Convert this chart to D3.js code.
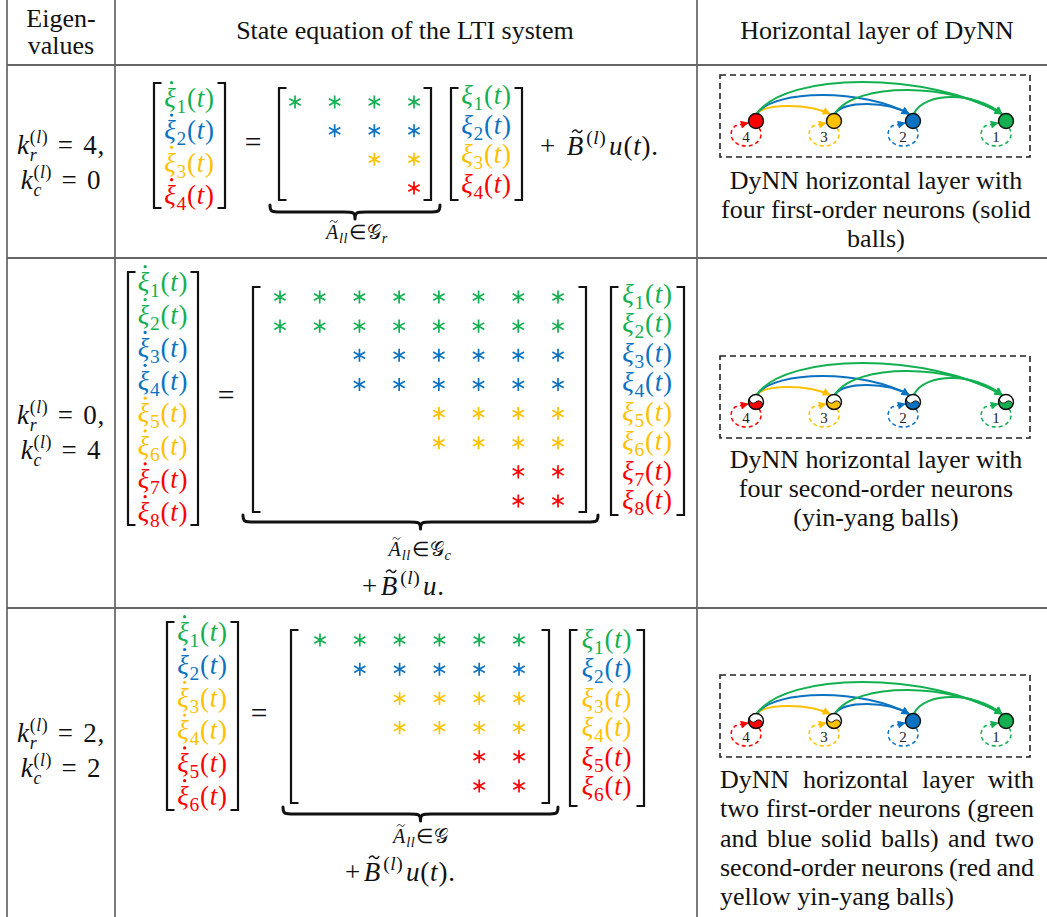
<!DOCTYPE html>
<html><head><meta charset="utf-8">
<script src="https://cdn.jsdelivr.net/npm/d3@7"></script>
<style>body{margin:0;background:#fff} svg{display:block}</style>
</head><body>
<svg id="c" width="1047" height="917"></svg>
<script>
// ---------------- DATA ----------------
const headerEigen = ["Eigen-", "values"];
const headers = ["State equation of the LTI system", "Horizontal layer of DyNN"];
const eigKr = [4, 0, 2];
const eigKc = [0, 4, 2];
const stateColors = [
  ["g","b","y","r"],
  ["g","g","b","b","y","y","r","r"],
  ["g","b","y","y","r","r"]
];
const starStart = [
  [0,1,2,3],
  [0,0,2,2,4,4,6,6],
  [0,1,2,2,4,4]
];
const setSub = ["r", "c", ""];
const inputTerm = ["u(t).", "u.", "u(t)."];
const inputPlusSpace = [true, false, false];
const neurons = [4, 3, 2, 1];
const neuronColors = ["r", "y", "b", "g"];
const neuronKinds = [
  ["solid","solid","solid","solid"],
  ["yy","yy","yy","yy"],
  ["yy","yy","solid","solid"]
];
const edgeFrom = [4, 4, 4, 3, 3, 2];
const edgeTo   = [3, 2, 1, 2, 1, 1];
const edgeRise = [15, 26, 39, 17, 31, 24];
const descriptions = [
  ["DyNN horizontal layer with", "four first-order neurons (solid", "balls)"],
  ["DyNN horizontal layer with", "four second-order neurons", "(yin-yang balls)"],
  ["DyNN horizontal layer with", "two first-order neurons (green", "and blue solid balls) and two", "second-order neurons (red and", "yellow yin-yang balls)"]
];
const descJustified = [false, false, true];

// ---------------- STYLE / LAYOUT ----------------
const W = 1047, H = 917;
const INK = "#111";
const pal = {g: "#12B050", b: "#0B72C2", y: "#FFC000", r: "#FF0000"};
const MF = "'Liberation Serif','Times New Roman',serif";
const S = 27;
const LS = 0.8;

const layout = [
  { k: [154, 189], eq: [253, 145],
    lv: {x0:154, x1:225, y0:83, y1:208, b:[107, 204]},
    m:  {x0:279, x1:431, y0:88, y1:200, cx:[295, 414], cy:[102, 188]},
    rv: {x0:451, x1:522, y0:88, y1:200, b:[104, 193]},
    br: {x0:270, x1:440, y:205}, lab: [357, 239], inp: [540, 155],
    box: 75, desc: [189, 29.2] },
  { k: [424, 459], eq: [226, 398],
    lv: {x0:128, x1:198, y0:272, y1:525, b:[291, 521]},
    m:  {x0:253, x1:586, y0:287, y1:512, cx:[280, 558], cy:[297, 501]},
    rv: {x0:611, x1:684, y0:287, y1:515, b:[303, 509]},
    br: {x0:243, x1:598, y:515}, lab: [420, 556], inp: [362, 595],
    box: 356, desc: [468, 29.2] },
  { k: [742, 777], eq: [259, 716],
    lv: {x0:167, x1:238, y0:622, y1:810, b:[641, 805]},
    m:  {x0:291, x1:549, y0:630, y1:803, cx:[320, 519], cy:[640, 786]},
    rv: {x0:570, x1:644, y0:630, y1:806, b:[648, 795]},
    br: {x0:283, x1:558, y:807}, lab: [421, 843], inp: [345, 881],
    box: 675, desc: [788, 29.3] }
];

const svg = d3.select("#c");
svg.append("rect").attr("width", W).attr("height", H).attr("fill", "#fff");

// ---------------- MATH HELPER ----------------
function runs(str) {
  const out = [];
  for (const ch of str) {
    const it = /[A-Za-z\u0370-\u03FF]/.test(ch);
    if (out.length && out[out.length-1][1] === it) out[out.length-1][0] += ch;
    else out.push([ch, it]);
  }
  return out;
}
function math(parent, items, size, color) {
  const g = parent.append("g");
  let x = 0;
  function put(str, fs, dy, o) {
    o = o || {};
    const t = g.append("text").attr("x", x).attr("y", dy)
      .attr("font-family", MF).attr("font-size", fs).attr("fill", color)
      .attr("letter-spacing", LS * fs / size);
    (o.up ? [[str, false]] : runs(str)).forEach(([s, it]) =>
      t.append("tspan").attr("font-style", it ? "italic" : "normal").text(s));
    const w = t.node().getComputedTextLength();
    if (o.dot) g.append("circle").attr("cx", x + w * 0.6).attr("cy", dy - 0.9 * fs)
      .attr("r", fs * 0.06).attr("fill", color);
    if (o.tilde) {
      const cx = x + w * 0.6, cy = dy - 0.88 * fs, hw = fs * 0.19, a = fs * 0.045;
      g.append("path")
        .attr("d", `M${cx-hw},${cy+a} C${cx-hw*0.55},${cy-a*2} ${cx-hw*0.2},${cy-a} ${cx},${cy} S${cx+hw*0.55},${cy+a*2} ${cx+hw},${cy-a}`)
        .attr("fill", "none").attr("stroke", color).attr("stroke-width", fs * 0.05);
    }
    return w;
  }
  items.forEach(it => {
    if (it.k !== undefined) { x += it.k * size; return; }
    if (it.sup !== undefined || it.sub !== undefined) {
      let w1 = 0, w2 = 0;
      const both = it.sup !== undefined && it.sub !== undefined;
      const fs = size * (both ? 0.66 : 0.72);
      if (it.sup !== undefined) w1 = put(it.sup, fs, -0.42 * size);
      if (it.sub !== undefined) w2 = put(it.sub, fs, (both ? 0.26 : 0.22) * size);
      x += Math.max(w1, w2) + (it.after || 0) * size; return;
    }
    x += put(it.t, size, 0, it) + (it.after || 0) * size;
  });
  return {g, w: x};
}
function place(m, x, y, anchor) {
  const dx = anchor === "middle" ? -m.w / 2 : anchor === "end" ? -m.w : 0;
  m.g.attr("transform", `translate(${x + dx},${y})`);
}
function bracketPair(x0, x1, y0, y1) {
  const t = 7.5;
  svg.append("path").attr("d", `M${x0+t},${y0} H${x0} V${y1} H${x0+t}`)
    .attr("fill", "none").attr("stroke", INK).attr("stroke-width", 2.2);
  svg.append("path").attr("d", `M${x1-t},${y0} H${x1} V${y1} H${x1-t}`)
    .attr("fill", "none").attr("stroke", INK).attr("stroke-width", 2.2);
}
function underbrace(x0, x1, y) {
  const d = 7, xc = (x0 + x1) / 2, ym = y + d, yb = y + 2 * d;
  const p = `M${x0},${y} C${x0},${ym} ${x0+2},${ym} ${x0+d*1.6},${ym} L${xc-d*1.6},${ym} C${xc-2},${ym} ${xc},${ym} ${xc},${yb} C${xc},${ym} ${xc+2},${ym} ${xc+d*1.6},${ym} L${x1-d*1.6},${ym} C${x1-2},${ym} ${x1},${ym} ${x1},${y}`;
  svg.append("path").attr("d", p).attr("fill", "none").attr("stroke", INK)
    .attr("stroke-width", 3).attr("stroke-linecap", "round").attr("stroke-linejoin", "round");
}

// ---------------- TABLE GRID ----------------
const grid = svg.append("g");
[7, 115, 697].forEach(x => grid.append("line").attr("x1", x).attr("x2", x).attr("y1", 0).attr("y2", H)
  .attr("stroke", "#222").attr("stroke-width", 1.2));
[65, 258, 608].forEach(y => grid.append("line").attr("x1", 7).attr("x2", W).attr("y1", y).attr("y2", y)
  .attr("stroke", "#666").attr("stroke-width", 2.2));

// header
const txt = (x, y, s, anchor) => svg.append("text").attr("x", x).attr("y", y)
  .attr("font-family", MF).attr("font-size", 26).attr("fill", INK)
  .attr("text-anchor", anchor || "middle").text(s);
txt(61, 27, headerEigen[0]);
txt(61, 54, headerEigen[1]);
txt(405, 39, headers[0]);
txt(877, 39, headers[1]);

// markers
const defs = svg.append("defs");
Object.entries(pal).forEach(([k, c]) => {
  defs.append("marker").attr("id", "ah-" + k).attr("viewBox", "0 0 10 10")
    .attr("refX", 9).attr("refY", 5).attr("markerWidth", 9).attr("markerHeight", 8)
    .attr("markerUnits", "userSpaceOnUse").attr("orient", "auto")
    .append("path").attr("d", "M0,0 L10,5 L0,10 Z").attr("fill", c);
});

const starPath = d3.symbol(d3.symbolAsterisk, 120)();
const nodeX = d3.scaleOrdinal().domain(neurons).range([756, 834, 913, 1006]);

layout.forEach((Lr, r) => {
  // eigenvalue column
  const k1 = math(svg, [{t: "k"}, {sup: "(l)", sub: "r"}, {k: 0.35}, {t: "=", up: true}, {k: 0.35}, {t: eigKr[r] + ","}], S, INK);
  place(k1, 61, Lr.k[0], "middle");
  const k2 = math(svg, [{t: "k"}, {sup: "(l)", sub: "c"}, {k: 0.35}, {t: "=", up: true}, {k: 0.35}, {t: String(eigKc[r])}], S, INK);
  place(k2, 61, Lr.k[1], "middle");

  const n = stateColors[r].length;
  const idx = d3.range(n);

  // left vector (derivatives)
  bracketPair(Lr.lv.x0, Lr.lv.x1, Lr.lv.y0, Lr.lv.y1);
  const ly = d3.scalePoint().domain(idx).range(Lr.lv.b);
  stateColors[r].forEach((c, i) => {
    const m = math(svg, [{t: "ξ", dot: true}, {sub: String(i + 1)}, {t: "(t)"}], S, pal[c]);
    place(m, (Lr.lv.x0 + Lr.lv.x1) / 2, ly(i), "middle");
  });

  // equals
  svg.append("text").attr("x", Lr.eq[0]).attr("y", Lr.eq[1] + 7).attr("text-anchor", "middle")
    .attr("font-family", MF).attr("font-size", S * 1.1).attr("fill", INK).text("=");

  // matrix
  bracketPair(Lr.m.x0, Lr.m.x1, Lr.m.y0, Lr.m.y1);
  const mx = d3.scalePoint().domain(idx).range(Lr.m.cx);
  const my = d3.scalePoint().domain(idx).range(Lr.m.cy);
  stateColors[r].forEach((c, i) => {
    d3.range(starStart[r][i], n).forEach(j => {
      svg.append("path").attr("d", starPath)
        .attr("transform", `translate(${mx(j)},${my(i)})`)
        .attr("fill", "none").attr("stroke", pal[c]).attr("stroke-width", 1.7);
    });
  });

  // underbrace + label
  underbrace(Lr.br.x0, Lr.br.x1, Lr.br.y);
  const labItems = [{t: "A", tilde: true}, {sub: "ll"}, {k: 0.05}, {t: "∈", up: true}, {t: "𝒢", up: true}];
  if (setSub[r]) labItems.push({sub: setSub[r]});
  const lab = math(svg, labItems, 20, INK);
  place(lab, Lr.lab[0], Lr.lab[1], "middle");

  // right vector (states)
  bracketPair(Lr.rv.x0, Lr.rv.x1, Lr.rv.y0, Lr.rv.y1);
  const ry = d3.scalePoint().domain(idx).range(Lr.rv.b);
  stateColors[r].forEach((c, i) => {
    const m = math(svg, [{t: "ξ"}, {sub: String(i + 1)}, {t: "(t)"}], S, pal[c]);
    place(m, (Lr.rv.x0 + Lr.rv.x1) / 2, ry(i), "middle");
  });

  // input term
  const inp = math(svg, [{t: "+", up: true}, {k: inputPlusSpace[r] ? 0.4 : 0.1}, {t: "B", tilde: true, after: 0.08},
    {sup: "(l)", after: 0.1}, {t: inputTerm[r]}], S, INK);
  place(inp, Lr.inp[0], Lr.inp[1], "start");

  // ---------- DyNN diagram ----------
  const by = Lr.box, ny = by + 46;
  const dg = svg.append("g");
  dg.append("rect").attr("x", 720).attr("y", by).attr("width", 310).attr("height", 82)
    .attr("fill", "none").attr("stroke", "#222").attr("stroke-width", 1.6).attr("stroke-dasharray", "6,4");
  edgeFrom.forEach((f, e) => {
    const t = edgeTo[e];
    const c = neuronColors[neurons.indexOf(t)];
    const sx = nodeX(f) + 1, sy = ny - 7.5;
    const tx = nodeX(t) - 4, ty = ny - 7;
    const dx = tx - sx;
    const peak = ny - edgeRise[e];
    const yc = sy - (sy - peak) / 0.75;
    dg.append("path")
      .attr("d", `M${sx},${sy} C${sx + 0.12 * dx},${yc} ${tx - 0.3 * dx},${yc} ${tx},${ty}`)
      .attr("fill", "none").attr("stroke", pal[c]).attr("stroke-width", 2)
      .attr("marker-end", `url(#ah-${c})`);
  });
  neurons.forEach((id, q) => {
    const c = neuronColors[q], nx = nodeX(id);
    dg.append("path")
      .attr("d", `M${nx+3},${ny+7} A15 12 0 1 1 ${nx-21},${ny+5} L${nx-8},${ny+2}`)
      .attr("fill", "none").attr("stroke", pal[c]).attr("stroke-width", 1.5)
      .attr("stroke-dasharray", "4,3").attr("marker-end", `url(#ah-${c})`);
    dg.append("text").attr("x", nx - 10).attr("y", ny + 21).attr("text-anchor", "middle")
      .attr("font-family", MF).attr("font-size", 15).attr("fill", "#222").text(id);
  });
  neurons.forEach((id, q) => {
    const c = pal[neuronColors[q]], nx = nodeX(id), rr = 7.5;
    const ng = dg.append("g").attr("transform", `translate(${nx},${ny})`);
    if (neuronKinds[r][q] === "solid") {
      ng.append("circle").attr("r", rr).attr("fill", c).attr("stroke", INK).attr("stroke-width", 1.4);
    } else {
      ng.append("circle").attr("r", rr).attr("fill", "#fff");
      ng.append("path")
        .attr("d", `M0,${-rr} A${rr},${rr} 0 0 0 0,${rr} A${rr/2},${rr/2} 0 0 0 0,0 A${rr/2},${rr/2} 0 0 1 0,${-rr} Z`)
        .attr("transform", "rotate(-45)")
        .attr("fill", c).attr("stroke", INK).attr("stroke-width", 1);
      ng.append("circle").attr("r", rr).attr("fill", "none").attr("stroke", INK).attr("stroke-width", 1.4);
    }
  });

  // description text
  const lines = descriptions[r];
  lines.forEach((s, li) => {
    const y = Lr.desc[0] + li * Lr.desc[1];
    if (!descJustified[r] || li === lines.length - 1) {
      if (descJustified[r]) txt(720, y, s, "start");
      else txt(876, y, s, "middle");
    } else {
      const words = s.split(" ");
      const ws = words.map(w => {
        const t = svg.append("text").attr("font-family", MF).attr("font-size", 26).text(w);
        const l = t.node().getComputedTextLength(); t.remove(); return l;
      });
      const gap = (1034 - 720 - d3.sum(ws)) / (words.length - 1);
      let x = 720;
      words.forEach((w, wi) => { txt(x, y, w, "start"); x += ws[wi] + gap; });
    }
  });
});
</script>
</body></html>
